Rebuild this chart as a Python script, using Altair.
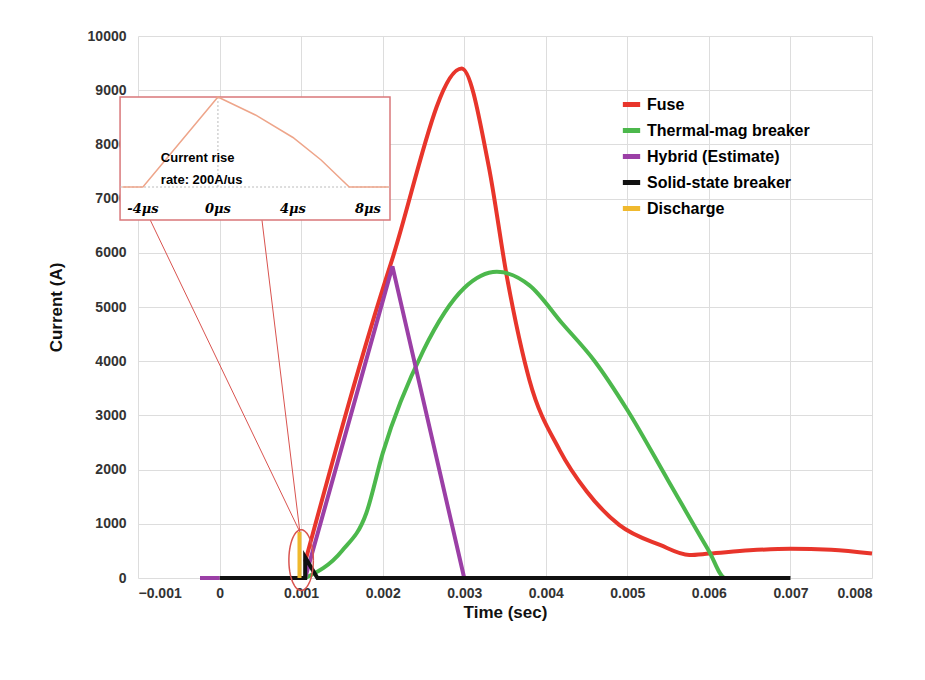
import altair as alt
import pandas as pd
import numpy as np

fuse_t = [0.00105, 0.0021, 0.00297, 0.0033, 0.00353, 0.0038, 0.00417, 0.0045, 0.0049, 0.0054, 0.00576, 0.006, 0.0065, 0.007, 0.0075, 0.008]
fuse_i = [300, 5800, 9400, 7600, 5500, 3650, 2360, 1600, 980, 610, 425, 450, 510, 540, 520, 450]
therm_t = [0.00105, 0.0015, 0.0018, 0.002, 0.0025, 0.003, 0.0034, 0.0038, 0.0042, 0.0046, 0.005, 0.0055, 0.006, 0.0062, 0.0063]
therm_i = [0, 500, 1200, 2300, 4200, 5350, 5650, 5400, 4700, 4000, 3100, 1800, 500, 0, 0]
hyb_t = [0.00105, 0.00212, 0.003]
hyb_i = [0, 5750, 0]
hyb_pre_t = [-0.00024, 0.0]
hyb_pre_i = [0, 0]
ss_t = [0.0, 0.00105, 0.00105, 0.0012, 0.007]
ss_i = [0, 0, 380, 0, 0]
dis_t = [0.00098, 0.00098]
dis_i = [0, 850]

# inset (microsecond waveform), normalised amplitude
inset_us = [-5.1, -4, 0, 0.5, 2, 4, 5.5, 7, 9.1]
inset_amp = [0, 0, 1, 0.95, 0.8, 0.55, 0.3, 0, 0]
inset_ticks = [-4, 0, 4, 8]
inset_tick_lbl = ["-4\u03bcs", "0\u03bcs", "4\u03bcs", "8\u03bcs"]

# inset box placement in data units
bx0, bx1, by0, by1 = -0.00122, 0.00209, 6605, 8875
us0_x, us_per = -0.00002, 0.00023   # data x of 0us, data per us
base_y, peak_y = 7214, 8875

rows = []
for name, t, i in [("Fuse", fuse_t, fuse_i), ("Thermal-mag breaker", therm_t, therm_i),
                   ("Hybrid (Estimate)", hyb_t, hyb_i), ("Solid-state breaker", ss_t, ss_i),
                   ("Discharge", dis_t, dis_i)]:
    for k, (a, b) in enumerate(zip(t, i)):
        rows.append({"s": name, "t": a, "i": b, "o": k, "g": name})
for k, (a, b) in enumerate(zip(hyb_pre_t, hyb_pre_i)):
    rows.append({"s": "Hybrid (Estimate)", "t": a, "i": b, "o": k, "g": "hp"})
df = pd.DataFrame(rows)

order = ["Fuse", "Thermal-mag breaker", "Hybrid (Estimate)", "Solid-state breaker", "Discharge"]
colors = ["#e8352b", "#4cb84c", "#9b3fa6", "#111111", "#f0b92e"]

xs = alt.Scale(domain=[-0.001, 0.008], nice=False)
ys = alt.Scale(domain=[0, 10000], nice=False)

base = alt.Chart(df).encode(
    x=alt.X("t:Q", scale=xs, title="Time (sec)",
            axis=alt.Axis(values=[-0.001 + 0.001 * k for k in range(10)],
                          labelExpr="datum.value == 0 ? '0' : format(datum.value, '.3f')",
                          labelFontSize=14, labelFontWeight="bold", titleFontSize=17,
                          titleFontWeight="bold", gridColor="#dddddd", domain=False, ticks=False,
                          labelPadding=8)),
    y=alt.Y("i:Q", scale=ys, title="Current (A)",
            axis=alt.Axis(values=list(range(0, 10001, 1000)), format="d", labelFontSize=14,
                          labelFontWeight="bold", titleFontSize=17, titleFontWeight="bold",
                          gridColor="#dddddd", domain=False, ticks=False, labelPadding=12,
                          titlePadding=22)),
    color=alt.Color("s:N", scale=alt.Scale(domain=order, range=colors), sort=order,
                    legend=alt.Legend(title=None, orient="none", legendX=482, legendY=57,
                                      labelFontSize=16, labelFontWeight="bold", symbolType="stroke",
                                      symbolStrokeWidth=5, symbolSize=300, rowPadding=4,
                                      labelLimit=0)),
    detail="g:N", order="o:Q")
smooth = base.transform_filter(alt.FieldOneOfPredicate(field="s", oneOf=["Fuse", "Thermal-mag breaker"])) \
    .mark_line(strokeWidth=4, interpolate="monotone")
straight = base.transform_filter(alt.FieldOneOfPredicate(field="s", oneOf=order[2:])) \
    .mark_line(strokeWidth=4)

# inset
box = alt.Chart(pd.DataFrame({"x": [bx0], "x2": [bx1], "y": [by0], "y2": [by1]})).mark_rect(
    fill="white", stroke="#d9777a", strokeWidth=1.5).encode(x=alt.X("x:Q", scale=xs), x2="x2:Q",
                                                            y=alt.Y("y:Q", scale=ys), y2="y2:Q")
idf = pd.DataFrame({"x": [us0_x + u * us_per for u in inset_us],
                    "y": [base_y + a * (peak_y - base_y) for a in inset_amp], "o": range(len(inset_us))})
iline = alt.Chart(idf).mark_line(color="#eea58a", strokeWidth=1.5).encode(
    x=alt.X("x:Q", scale=xs), y=alt.Y("y:Q", scale=ys), order="o:Q")
ibase = alt.Chart(pd.DataFrame({"x": [bx0], "x2": [bx1], "y": [base_y]})).mark_rule(
    color="#bbbbbb", strokeDash=[2, 2]).encode(x=alt.X("x:Q", scale=xs), x2="x2:Q", y=alt.Y("y:Q", scale=ys))
ivert = alt.Chart(pd.DataFrame({"x": [us0_x], "y": [base_y], "y2": [peak_y]})).mark_rule(
    color="#bbbbbb", strokeDash=[2, 2]).encode(x=alt.X("x:Q", scale=xs), y=alt.Y("y:Q", scale=ys), y2="y2:Q")
itick = alt.Chart(pd.DataFrame({"x": [us0_x + u * us_per for u in inset_ticks], "l": inset_tick_lbl,
                                "y": [6800] * 4})).mark_text(
    fontSize=13, fontWeight="bold", font="DejaVu Serif", fontStyle="italic").encode(
    x=alt.X("x:Q", scale=xs), y=alt.Y("y:Q", scale=ys), text="l:N")
itext = alt.Chart(pd.DataFrame({"x": [-0.00072] * 2, "y": [7750, 7340],
                                "l": ["Current rise", "rate: 200A/us"]})).mark_text(
    fontSize=13, fontWeight="bold", align="left").encode(
    x=alt.X("x:Q", scale=xs), y=alt.Y("y:Q", scale=ys), text="l:N")

# connector lines and ellipse
conn = pd.DataFrame({"x": [-0.00085, 0.000985, 0.00052, 0.000985], "y": [6605, 850, 6605, 850],
                     "k": ["a", "a", "b", "b"], "o": [0, 1, 0, 1]})
cl = alt.Chart(conn).mark_line(color="#d9534f", strokeWidth=1).encode(
    x=alt.X("x:Q", scale=xs), y=alt.Y("y:Q", scale=ys), detail="k:N", order="o:Q")
th = np.linspace(0, 2 * np.pi, 60)
ell = pd.DataFrame({"x": 0.001 + 0.00015 * np.cos(th), "y": 330 + 560 * np.sin(th), "o": range(60)})
el = alt.Chart(ell).mark_line(color="#d9534f", strokeWidth=1.5).encode(
    x=alt.X("x:Q", scale=xs), y=alt.Y("y:Q", scale=ys), order="o:Q")

chart = alt.layer(smooth, straight, cl, el, box, ibase, ivert, iline, itick, itext).properties(
    width=734, height=542, autosize=alt.AutoSizeParams(type="none"),
    padding={"left": 130, "top": 28, "right": 30, "bottom": 80}
).configure_view(stroke=None).configure_axis(labelColor="#333", titleColor="#111")

chart.save("out.html", embed_options={"renderer": "svg", "actions": False})
